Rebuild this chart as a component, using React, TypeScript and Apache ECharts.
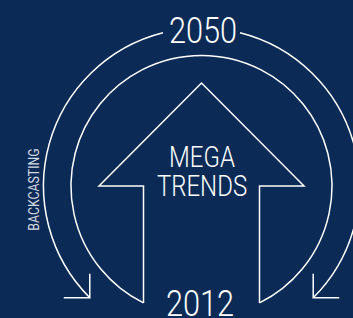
import React, { useEffect, useRef } from "react";
import * as echarts from "echarts";

// Text content of the diagram
const YEAR_LABELS = ["2050", "2012"]; // top, bottom
const CENTER_LABELS = ["MEGA", "TRENDS"];
const SIDE_LABEL = ["BACKCASTING"];

const BG = "#0b2b56";
const LINE = "#ffffff";
const FONT = "Roboto, 'Liberation Sans', sans-serif";

export default function App() {
  const ref = useRef<HTMLDivElement>(null);

  useEffect(() => {
    document.body.style.margin = "0";
    const chart = echarts.init(ref.current!, null, { renderer: "svg" });

    const cx = 201.5;
    const cy = 186;
    const rOuter = 158;
    const rInner = 130.5;
    const deg = Math.PI / 180;

    // outer arc gap around "2050"
    const gapHalfX = 38.5;
    const gapAng = Math.asin(gapHalfX / rOuter);
    const topAng = 270 * deg;
    const outerLeftEnd = 135 * deg;
    const outerRightEnd = 45 * deg + 2 * Math.PI;

    // inner arc ends at arrow shaft bottoms
    const shaftL = 143.5;
    const shaftR = 259.5;
    const innerLeftAng = Math.PI - Math.acos((cx - shaftL) / rInner);
    const innerRightAng = Math.acos((shaftR - cx) / rInner);
    const shaftBottom = cy + Math.sqrt(rInner * rInner - (cx - shaftL) * (cx - shaftL));

    const tipL = [cx + rOuter * Math.cos(outerLeftEnd), cy + rOuter * Math.sin(outerLeftEnd)];
    const tipR = [cx + rOuter * Math.cos(outerRightEnd), cy + rOuter * Math.sin(outerRightEnd)];

    const headBaseY = 186;
    const headTipY = 83;
    const headL = 99;
    const headR = 304;

    const stroke = { stroke: LINE, lineWidth: 1.5, fill: null as any };

    chart.setOption({
      animation: false,
      backgroundColor: BG,
      graphic: [
        {
          type: "arc",
          shape: { cx, cy, r: rOuter, startAngle: outerLeftEnd, endAngle: topAng - gapAng, clockwise: true },
          style: stroke,
        },
        {
          type: "arc",
          shape: { cx, cy, r: rOuter, startAngle: topAng + gapAng, endAngle: outerRightEnd, clockwise: true },
          style: stroke,
        },
        {
          type: "arc",
          shape: { cx, cy, r: rInner, startAngle: innerLeftAng, endAngle: innerRightAng + 2 * Math.PI, clockwise: true },
          style: stroke,
        },
        {
          type: "polyline",
          shape: {
            points: [
              [shaftL, shaftBottom],
              [shaftL, headBaseY],
              [headL, headBaseY],
              [cx, headTipY],
              [headR, headBaseY],
              [shaftR, headBaseY],
              [shaftR, shaftBottom],
            ],
          },
          style: stroke,
        },
        {
          type: "polyline",
          shape: { points: [[tipL[0] - 26, tipL[1]], [tipL[0], tipL[1]], [tipL[0], tipL[1] - 24]] },
          style: stroke,
        },
        {
          type: "polyline",
          shape: { points: [[tipR[0] + 26, tipR[1]], [tipR[0], tipR[1]], [tipR[0], tipR[1] - 24]] },
          style: stroke,
        },
        {
          type: "text",
          x: cx + 1.5,
          y: 30,
          scaleX: 0.83,
          style: { text: YEAR_LABELS[0], fill: LINE, font: `300 37px ${FONT}`, align: "center", verticalAlign: "middle" },
        },
        {
          type: "text",
          x: cx - 1.5,
          y: 302.5,
          scaleX: 0.83,
          style: { text: YEAR_LABELS[1], fill: LINE, font: `300 37px ${FONT}`, align: "center", verticalAlign: "middle" },
        },
        {
          type: "text",
          x: cx + 0.5,
          y: 157.5,
          scaleX: 0.8,
          style: { text: CENTER_LABELS[0], fill: LINE, font: `300 30px ${FONT}`, align: "center", verticalAlign: "middle" },
        },
        {
          type: "text",
          x: cx + 0.5,
          y: 186,
          scaleX: 0.8,
          style: { text: CENTER_LABELS[1], fill: LINE, font: `300 30px ${FONT}`, align: "center", verticalAlign: "middle" },
        },
        {
          type: "text",
          x: 34.5,
          y: 189.5,
          rotation: Math.PI / 2,
          scaleX: 0.88,
          style: { text: SIDE_LABEL[0], fill: "#d3d9e3", font: `400 14px ${FONT}`, align: "center", verticalAlign: "middle" },
        },
      ],
    });

    return () => chart.dispose();
  }, []);

  return (
    <div
      ref={ref}
      style={{ position: "fixed", left: 0, top: 0, width: 353, height: 318 }}
    />
  );
}
